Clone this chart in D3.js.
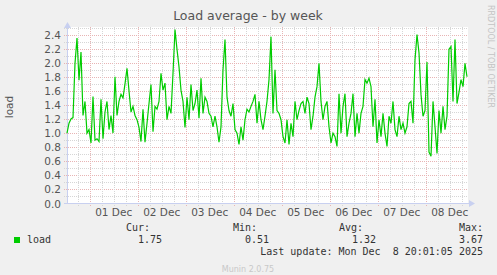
<html>
<head>
<script src="https://d3js.org/d3.v7.min.js"></script>
<style>
body { margin: 0; background: #f0f0f0; }
svg text { font-family: "DejaVu Sans", sans-serif; }
.mono { font-family: "DejaVu Sans Mono", monospace !important; font-size: 10px; fill: #333; }
</style>
</head>
<body>
<script>
// one sample per hour
var startTime = new Date(2025, 10, 30, 12, 40);
var load = [
 1.00,1.14,1.20,1.22,1.99,2.35,1.75,2.15,1.25,1.45,1.00,1.05,0.86,1.52,0.90,0.92,0.88,1.48,0.92,1.30,
 1.45,1.05,1.25,1.00,1.80,1.25,1.45,1.55,1.50,1.70,1.92,1.60,1.30,1.38,1.25,1.19,1.08,0.88,1.34,0.87,
 1.14,1.42,1.69,1.02,1.38,1.34,1.45,1.85,1.61,1.71,1.19,1.38,1.28,1.85,2.47,2.19,1.94,1.61,1.45,1.08,
 1.51,1.19,1.69,1.32,1.42,1.61,1.21,1.78,1.28,1.51,1.45,1.28,1.24,1.09,1.24,1.09,0.87,1.09,1.90,2.33,
 1.51,1.32,1.24,1.42,1.05,1.00,0.84,1.09,0.90,1.19,1.34,1.30,1.38,1.45,1.55,1.14,1.45,1.19,1.05,1.24,
 1.45,1.76,2.37,1.28,1.90,1.32,1.28,1.19,0.95,0.86,1.19,0.84,1.14,0.95,1.45,1.19,1.32,1.42,1.45,1.28,
 1.51,1.42,1.05,1.24,1.51,1.66,1.99,1.45,1.19,1.38,1.45,1.09,0.86,1.00,0.95,0.81,1.56,1.00,1.38,1.56,
 0.95,1.14,1.28,1.56,0.95,1.28,1.00,1.28,1.38,1.76,1.71,1.78,1.66,1.09,1.48,0.86,1.19,0.95,1.28,1.00,
 0.81,1.24,1.14,1.45,1.05,0.95,1.24,1.05,1.14,1.00,1.09,1.42,1.45,1.14,2.04,2.40,2.14,1.55,1.24,1.32,
 2.01,0.73,0.67,1.45,1.09,0.71,1.32,1.00,1.38,1.05,1.24,2.19,2.23,1.45,2.33,1.42,1.58,1.76,1.66,1.99,
 1.80
];
var yTicks = [0,0.2,0.4,0.6,0.8,1.0,1.2,1.4,1.6,1.8,2.0,2.2,2.4];
var legendHeads = ["Cur:", "Min:", "Avg:", "Max:"];
var legendVals = ["1.75", "0.51", "1.32", "3.67"];

var w = 497, h = 275;
var svg = d3.select("body").append("svg").attr("width", w).attr("height", h);
svg.append("rect").attr("width", w).attr("height", h).attr("fill", "#f0f0f0");

var endTime = d3.timeHour.offset(startTime, 200);
var x = d3.scaleTime().domain([startTime, endTime]).range([67, 467]);
var y = d3.scaleLinear().domain([0, 2.5]).range([203.5, 27.5]);

svg.append("rect").attr("x", 67).attr("y", 27).attr("width", 401).attr("height", 177).attr("fill", "#fff");

var grid = svg.append("g").attr("shape-rendering", "crispEdges").attr("stroke-width", 1).attr("stroke-dasharray", "1,1");

// horizontal grid, every 0.1
var minorY = d3.range(1, 26).map(function(i){ return i / 10; });
grid.selectAll(".hy").data(minorY).enter().append("line")
  .attr("x1", 64).attr("x2", 468)
  .attr("y1", function(d){ return Math.round(y(d)) + 0.5; })
  .attr("y2", function(d){ return Math.round(y(d)) + 0.5; })
  .attr("stroke", function(d, i){ return (i % 2 == 1) ? "#e8b4b4" : "#d6d6d6"; });

// vertical grid, every 6h, red at midnight
var sixH = d3.timeHour.every(6).range(startTime, endTime);
grid.selectAll(".vx").data(sixH).enter().append("line")
  .attr("x1", function(d){ return Math.round(x(d)) + 0.5; })
  .attr("x2", function(d){ return Math.round(x(d)) + 0.5; })
  .attr("y1", 27).attr("y2", 207)
  .attr("stroke", function(d){ return d.getHours() == 0 ? "#e8b4b4" : "#d6d6d6"; });

// axes
svg.append("line").attr("x1", 67.5).attr("x2", 67.5).attr("y1", 24).attr("y2", 204).attr("stroke", "#c8d0f0");
svg.append("line").attr("x1", 64).attr("x2", 470).attr("y1", 203.5).attr("y2", 203.5).attr("stroke", "#c8d0f0");
svg.append("path").attr("d", "M64,28 L67.5,22 L71,28 Z").attr("fill", "#c8d0f0");
svg.append("path").attr("d", "M469,200 L475,203.5 L469,207 Z").attr("fill", "#c8d0f0");

// y labels
svg.selectAll(".yl").data(yTicks).enter().append("text")
  .attr("x", 61).attr("y", function(d){ return y(d) + 4; })
  .attr("text-anchor", "end").attr("font-size", "10.5px").attr("fill", "#555")
  .text(function(d){ return d3.format(".1f")(d); });

// x labels at noon
var noons = d3.timeDay.range(startTime, endTime).map(function(d){ return d3.timeHour.offset(d, 12); })
  .filter(function(d){ return d > startTime && d < endTime; });
svg.selectAll(".xl").data(noons).enter().append("text")
  .attr("x", function(d){ return x(d); }).attr("y", 216)
  .attr("text-anchor", "middle").attr("font-size", "10.5px").attr("fill", "#555")
  .text(function(d){ return d3.timeFormat("%d %b")(d); });

// line
var line = d3.line()
  .x(function(d, i){ return x(d3.timeHour.offset(startTime, i)); })
  .y(function(d){ return y(d); });
svg.append("path").datum(load).attr("d", line)
  .attr("fill", "none").attr("stroke", "#00cc00").attr("stroke-width", 1.2);

// titles
svg.append("text").attr("x", 248).attr("y", 20).attr("text-anchor", "middle")
  .attr("font-size", "12.5px").attr("fill", "#555").text("Load average - by week");
svg.append("text").attr("transform", "translate(13,107) rotate(-90)").attr("text-anchor", "middle")
  .attr("font-size", "10.5px").attr("fill", "#555").text("load");
svg.append("text").attr("transform", "translate(488,5) rotate(90)").attr("text-anchor", "start")
  .attr("font-size", "8px").attr("fill", "#c4c4c4").text("RRDTOOL / TOBI OETIKER");

// legend
var colRight = [150, 257, 363, 483];
var valRight = [162, 269, 376, 483];
svg.selectAll(".lh").data(legendHeads).enter().append("text").attr("class", "mono")
  .attr("x", function(d, i){ return colRight[i]; }).attr("y", 231).attr("text-anchor", "end")
  .text(function(d){ return d; });
svg.selectAll(".lv").data(legendVals).enter().append("text").attr("class", "mono")
  .attr("x", function(d, i){ return valRight[i]; }).attr("y", 243).attr("text-anchor", "end")
  .text(function(d){ return d; });
svg.append("rect").attr("x", 14).attr("y", 237).attr("width", 6).attr("height", 6).attr("fill", "#00cc00");
svg.append("text").attr("class", "mono").attr("x", 27).attr("y", 243).text("load");
svg.append("text").attr("class", "mono").attr("x", 483).attr("y", 255).attr("text-anchor", "end")
  .attr("xml:space", "preserve").style("white-space", "pre").text("Last update: Mon Dec  8 20:01:05 2025");
svg.append("text").attr("x", 248).attr("y", 272).attr("text-anchor", "middle")
  .attr("font-size", "8px").attr("fill", "#c8c8c8").text("Munin 2.0.75");
</script>
</body>
</html>
